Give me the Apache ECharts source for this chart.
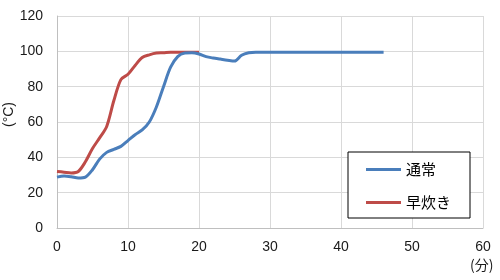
<!DOCTYPE html>
<html><head><meta charset="utf-8">
<script src="https://cdn.jsdelivr.net/npm/echarts@6/dist/echarts.min.js"></script>
<style>html,body{margin:0;padding:0;background:#fff}#c{width:500px;height:280px}</style>
</head><body><div id="c"></div>
<script>
const normalX = [0,1,2,3,4,5,6,7,8,9,10,11,12,13,14,15,16,17,18,19,20,21,22,23,24,25,26,27,28,30,35,40,46];
const normalY = [28.8,29.4,29,28.3,28.8,33,39,42.8,44.5,46.2,49.5,52.8,55.5,60,68.5,80,91,97,99,99.2,98.5,97,96.2,95.6,95,94.5,97.8,99.2,99.5,99.5,99.5,99.5,99.5];
const quickX = [0,1,2,3,4,5,6,7,8,9,10,11,12,13,14,15,16,17,18,19,20];
const quickY = [32,31.6,31.2,32,37.5,45,51,57.5,72,84,87,92,96.5,98,99,99.2,99.5,99.5,99.5,99.5,99.5];
const seriesNames = ['通常','早炊き'];
const xTicks = {min:0,max:60,interval:10};
const yTicks = {min:0,max:120,interval:20};
const xUnit = '(分)';
const yUnit = '(°C)';

const font = '"Liberation Sans", Arial, sans-serif';
const chart = echarts.init(document.getElementById('c'), null, {renderer:'canvas'});
chart.setOption({
  animation:false,
  grid:{left:57,right:17,top:16,bottom:52},
  xAxis:{type:'value',min:xTicks.min,max:xTicks.max,interval:xTicks.interval,
    axisLine:{show:true,lineStyle:{color:'#bfbfbf',width:1}},axisTick:{show:false},
    splitLine:{show:true,lineStyle:{color:'#d9d9d9',width:1}},
    axisLabel:{fontSize:14,color:'#1a1a1a',fontFamily:font,margin:12}},
  yAxis:{type:'value',min:yTicks.min,max:yTicks.max,interval:yTicks.interval,
    axisLine:{show:true,lineStyle:{color:'#bfbfbf',width:1}},axisTick:{show:false},
    splitLine:{show:true,lineStyle:{color:'#d9d9d9',width:1}},
    axisLabel:{fontSize:14,color:'#1a1a1a',fontFamily:font,margin:14}},
  legend:{orient:'vertical',left:348,top:152,
    padding:[10,19,8,18],itemGap:18,itemWidth:35,itemHeight:3,itemGap:18,
    borderColor:'#000',borderWidth:1,backgroundColor:'#fff',
    icon:'rect',
    textStyle:{fontSize:15,color:'#000',fontFamily:'"Noto Sans CJK JP", sans-serif',padding:[0,0,0,0]},
    data:seriesNames},
  series:[
    {name:seriesNames[0],type:'line',symbol:'none',smooth:0.3,color:'#4a7ebb',lineStyle:{width:3,color:'#4a7ebb'},
      data:normalX.map((x,i)=>[x,normalY[i]]),z:3},
    {name:seriesNames[1],type:'line',symbol:'none',smooth:0.3,color:'#be4b48',lineStyle:{width:3,color:'#be4b48'},
      data:quickX.map((x,i)=>[x,quickY[i]]),z:2}
  ],
  graphic:[
    {type:'text',left:2,top:102,rotation:Math.PI/2,style:{text:yUnit,fontSize:14,fill:'#1a1a1a',font:'14px "Noto Sans CJK JP", sans-serif'}},
    {type:'text',left:470,top:258,style:{text:xUnit,fill:'#1a1a1a',font:'14px "Noto Sans CJK JP", sans-serif'}}
  ]
});
</script></body></html>
